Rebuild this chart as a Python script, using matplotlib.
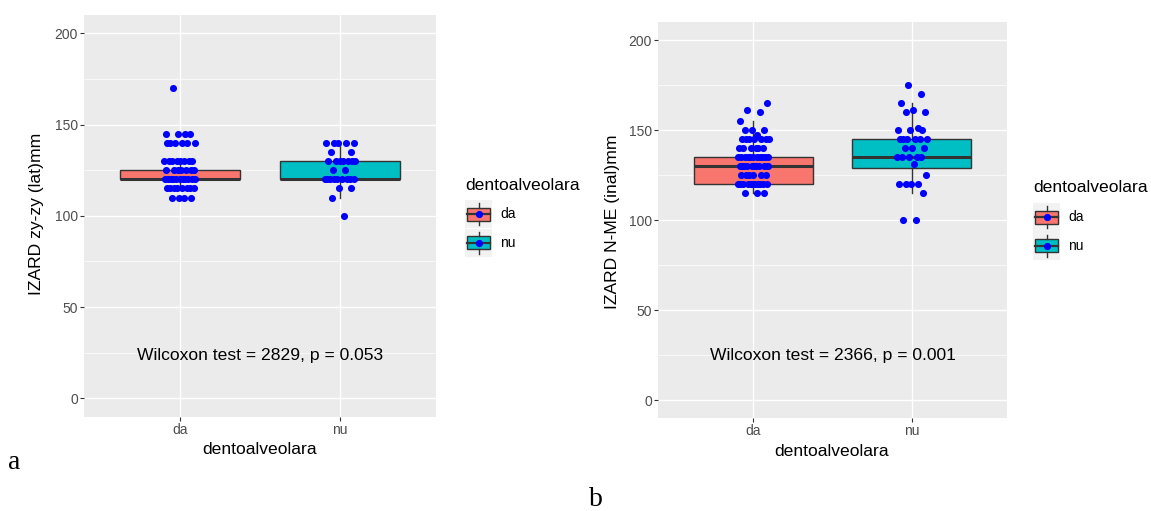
import numpy as np
import matplotlib
matplotlib.use("Agg")
import matplotlib.pyplot as plt
from matplotlib.patches import Rectangle, Patch
from matplotlib.lines import Line2D
from matplotlib.legend_handler import HandlerBase

plt.rcParams["font.family"] = ["Liberation Sans", "DejaVu Sans"]

# ---------------------------------------------------------------- data
categories = ["da", "nu"]
fill_colors = ["#F8766D", "#00BFC4"]

# panel a: IZARD zy-zy (lat), mm
zy_da = [110, 110, 110, 110,
         115, 115, 115, 115, 115, 115, 115, 115,
         120, 120, 120, 120, 120, 120, 120, 120, 120, 120, 120,
         125, 125, 125, 125, 125, 125, 125,
         130, 130, 130, 130, 130, 130, 130, 130,
         140, 140, 140, 140, 140, 140,
         145, 145, 145, 145,
         170]
zy_nu = [100, 110, 115, 115,
         120, 120, 120, 120, 120, 120, 120, 120, 120,
         125, 125,
         130, 130, 130, 130, 130, 130, 130,
         135, 135,
         140, 140, 140, 140, 140]

zy_q1 = [120, 120]
zy_median = [120, 120]
zy_q3 = [125, 130]
zy_whisker_low = [115, 110]
zy_whisker_high = [130, 140]
zy_note = "Wilcoxon test = 2829, p = 0.053"

# panel b: IZARD N-ME (inal), mm
nme_da = [115, 115, 115,
          120, 120, 120, 120, 120, 120, 120, 120, 120, 120, 120,
          125, 125, 125, 125, 125, 125,
          130, 130, 130, 130, 130, 130, 130, 130, 130, 130, 130,
          135, 135, 135, 135, 135, 135, 135, 135, 135, 135, 135,
          140, 140, 140, 140, 140, 140,
          145, 145, 145, 145, 145, 145, 145,
          147, 150, 150, 150, 155, 160, 161, 165]
nme_nu = [100, 100, 115, 120, 120, 120, 120, 125, 131,
          135, 135, 135, 135, 135, 140, 140, 140,
          145, 145, 145, 145, 145, 145,
          150, 150, 150, 151, 160, 160, 161, 165, 170, 175]

nme_q1 = [120, 129]
nme_median = [130, 135]
nme_q3 = [135, 145]
nme_whisker_low = [115, 115]
nme_whisker_high = [155, 165]
nme_note = "Wilcoxon test = 2366, p = 0.001"

y_ticks = [0, 50, 100, 150, 200]
y_minor = [25, 75, 125, 175]

# ---------------------------------------------------------------- style
W, H = 1151, 511
PANEL_BG = "#EBEBEB"
EDGE = "#333333"
POINT = "#0000FF"
TICK_TXT = "#4D4D4D"
TITLE_SIZE = 12.6
TICK_SIZE = 10


def fig_rect(x0, top, x1, bottom):
    """Axes rectangle from pixel edges (origin at the top-left corner)."""
    return [x0 / W, 1 - bottom / H, (x1 - x0) / W, (bottom - top) / H]


def draw_panel(ax, groups, q1, med, q3, lo, hi, note, note_y):
    ax.set_facecolor(PANEL_BG)
    ax.set_xlim(0.4, 2.6)
    ax.set_ylim(-10, 210)
    ax.set_yticks(y_ticks)
    ax.set_yticks(y_minor, minor=True)
    ax.grid(which="major", color="white", lw=1.0)
    ax.grid(which="minor", axis="y", color="white", lw=0.5)
    ax.set_axisbelow(True)
    for s in ax.spines.values():
        s.set_visible(False)

    stats = []
    for i, name in enumerate(categories):
        stats.append(dict(label=name, q1=q1[i], med=med[i], q3=q3[i],
                          whislo=lo[i], whishi=hi[i], fliers=[]))
    bp = ax.bxp(stats, positions=[1, 2], widths=0.75, patch_artist=True,
                showcaps=False, showfliers=False, manage_ticks=False,
                boxprops=dict(edgecolor=EDGE, lw=1.0),
                medianprops=dict(color=EDGE, lw=2.2, solid_capstyle="butt"),
                whiskerprops=dict(color=EDGE, lw=1.0))
    for patch, c in zip(bp["boxes"], fill_colors):
        patch.set_facecolor(c)

    # horizontal jitter from a golden-ratio sequence
    for i, vals in enumerate(groups):
        vals = np.asarray(vals, dtype=float)
        k = np.arange(1, len(vals) + 1)
        jitter = ((k * 0.6180339887) % 1.0 - 0.5) * 0.2
        ax.scatter(i + 1 + jitter, vals, s=26, color=POINT, linewidths=0,
                   zorder=4)

    ax.set_xticks([1, 2])
    ax.set_xticklabels(categories)
    ax.tick_params(which="major", length=2.9, width=0.8, color=EDGE,
                   labelcolor=TICK_TXT, labelsize=TICK_SIZE, pad=1.5)
    ax.tick_params(which="minor", length=0)
    ax.text(1.5, note_y, note, ha="center", va="center", fontsize=TITLE_SIZE,
            color="black")


class BoxKey(HandlerBase):
    def create_artists(self, legend, orig_handle, xd, yd, w, h, fs, trans):
        x0, y0 = -xd, -yd
        bg = Rectangle((x0, y0), w, h, facecolor="#F2F2F2", edgecolor="none",
                       transform=trans)
        box = Rectangle((x0 + 0.08 * w, y0 + 0.28 * h), 0.84 * w, 0.44 * h,
                        facecolor=orig_handle.get_facecolor(), edgecolor=EDGE,
                        lw=1.0, transform=trans)
        med = Line2D([x0 + 0.08 * w, x0 + 0.92 * w], [y0 + 0.5 * h] * 2,
                     color=EDGE, lw=1.6, transform=trans)
        wl = Line2D([x0 + 0.5 * w] * 2, [y0 + 0.12 * h, y0 + 0.28 * h],
                    color=EDGE, lw=1.0, transform=trans)
        wh = Line2D([x0 + 0.5 * w] * 2, [y0 + 0.72 * h, y0 + 0.88 * h],
                    color=EDGE, lw=1.0, transform=trans)
        pt = Line2D([x0 + 0.5 * w], [y0 + 0.5 * h], marker="o", ms=5.2,
                    mew=0, color=POINT, ls="none", transform=trans)
        return [bg, box, med, wl, wh, pt]


def add_legend(fig, x_left, key_top, title_y, key_px=28.5, key_w=27):
    handles = [Patch(facecolor=c) for c in fill_colors]
    fs_px = TICK_SIZE * 100 / 72
    # matplotlib shortens the handle box by a descent term; undo it so that
    # each key row is key_px tall
    hh = (key_px / fs_px - 0.245) / 0.65
    fig.legend(handles, categories, handler_map={Patch: BoxKey()},
               loc="upper left", bbox_to_anchor=(x_left / W, 1 - key_top / H),
               bbox_transform=fig.transFigure, frameon=False, borderpad=0,
               borderaxespad=0, labelspacing=0, handlelength=key_w / fs_px,
               handleheight=hh, handletextpad=0.6, fontsize=TICK_SIZE)
    fig.text(x_left / W, 1 - title_y / H, "dentoalveolara", ha="left",
             va="center", fontsize=TITLE_SIZE)


# ---------------------------------------------------------------- figure
fig = plt.figure(figsize=(W / 100, H / 100), dpi=100)
fig.patch.set_facecolor("white")

ax_a = fig.add_axes(fig_rect(84, 15, 436, 416.5))
draw_panel(ax_a, [zy_da, zy_nu], zy_q1, zy_median, zy_q3,
           zy_whisker_low, zy_whisker_high, zy_note, 23.5)

ax_b = fig.add_axes(fig_rect(658, 22, 1007, 418))
draw_panel(ax_b, [nme_da, nme_nu], nme_q1, nme_median, nme_q3,
           nme_whisker_low, nme_whisker_high, nme_note, 24.5)

# axis titles
fig.text(37 / W, 1 - 214 / H, "IZARD zy-zy (lat)mm", rotation=90,
         ha="center", va="center", fontsize=TITLE_SIZE)
fig.text(613 / W, 1 - 222 / H, "IZARD N-ME (inal)mm", rotation=90,
         ha="center", va="center", fontsize=TITLE_SIZE)
fig.text(260 / W, 1 - 450 / H, "dentoalveolara", ha="center", va="center",
         fontsize=TITLE_SIZE)
fig.text(832 / W, 1 - 451 / H, "dentoalveolara", ha="center", va="center",
         fontsize=TITLE_SIZE)

add_legend(fig, 465, 200, 185)
add_legend(fig, 1033, 203, 188)

# panel letters
fig.text(8 / W, 1 - 469 / H, "a", family="Liberation Serif", fontsize=20,
         va="baseline", ha="left")
fig.text(589 / W, 1 - 506 / H, "b", family="Liberation Serif", fontsize=20,
         va="baseline", ha="left")

fig.savefig("out.png", dpi=100, facecolor="white")
